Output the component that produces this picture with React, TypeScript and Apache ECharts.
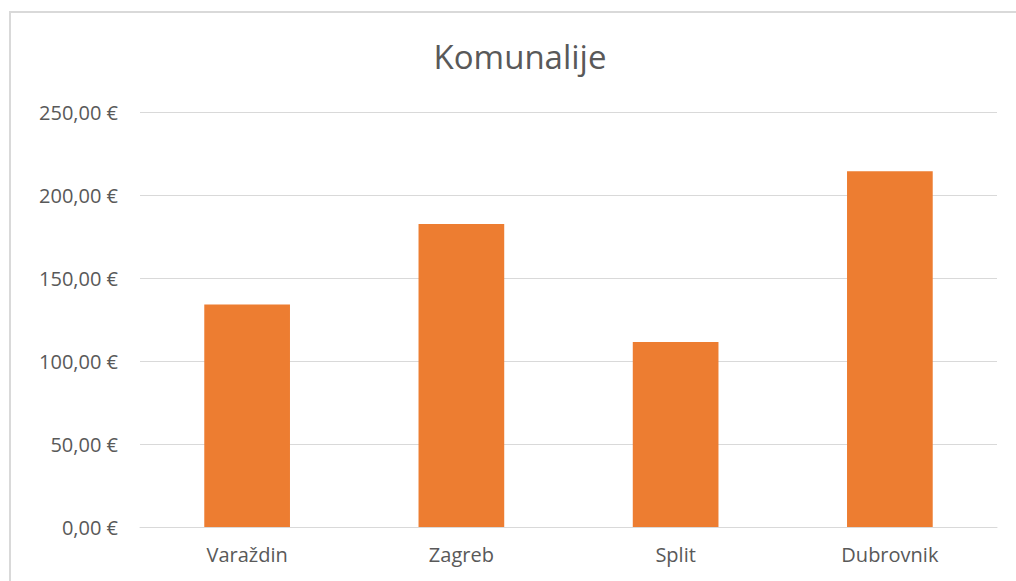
import React, { useEffect, useRef } from "react";
import * as echarts from "echarts";

const categories = ["Varaždin", "Zagreb", "Split", "Dubrovnik"];
const values = [134, 182.5, 111.5, 214.3];
const yTicks = [0, 50, 100, 150, 200, 250];

const fmt = (v: number) => v.toFixed(2).replace(".", ",") + " €";

export default function App() {
  const ref = useRef<HTMLDivElement>(null);
  useEffect(() => {
    if (!ref.current) return;
    const chart = echarts.init(ref.current, null, { renderer: "svg" });
    chart.setOption({
      animation: false,
      backgroundColor: "#ffffff",
      graphic: [
        {
          type: "rect",
          shape: { x: 10, y: 12, width: 1100, height: 700 },
          style: { fill: "none", stroke: "#d9d9d9", lineWidth: 2 },
          silent: true,
        },
      ],
      title: {
        text: "Komunalije",
        left: 515,
        top: 35,
        textAlign: "center",
        textStyle: {
          fontFamily: "Open Sans",
          fontWeight: "normal",
          fontSize: 33,
          color: "#595959",
        },
      },
      grid: { left: 140, right: 19, top: 112, bottom: 54, containLabel: false },
      xAxis: {
        type: "category",
        data: categories,
        axisLine: { lineStyle: { color: "#d9d9d9", width: 1 } },
        axisTick: { show: false },
        axisLabel: {
          fontFamily: "Open Sans",
          fontSize: 20,
          color: "#595959",
          margin: 17,
        },
      },
      yAxis: {
        type: "value",
        min: yTicks[0],
        max: yTicks[yTicks.length - 1],
        interval: 50,
        axisLine: { show: false },
        axisTick: { show: false },
        splitLine: { lineStyle: { color: "#d9d9d9", width: 1 } },
        axisLabel: {
          fontFamily: "Open Sans",
          fontSize: 20,
          color: "#595959",
          margin: 22,
          formatter: (v: number) => fmt(v),
        },
      },
      series: [
        {
          type: "bar",
          data: values,
          barWidth: "40%",
          itemStyle: { color: "#ed7d31" },
        },
      ],
    });
    return () => chart.dispose();
  }, []);
  return (
    <div
      ref={ref}
      style={{ position: "fixed", left: 0, top: 0, width: 1016, height: 581 }}
    />
  );
}
